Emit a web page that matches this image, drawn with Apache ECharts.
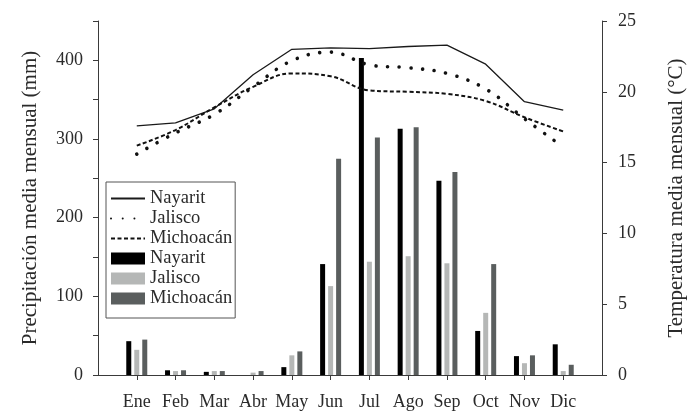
<!DOCTYPE html>
<html>
<head>
<meta charset="utf-8">
<script src="https://cdn.jsdelivr.net/npm/echarts@6/dist/echarts.min.js"></script>
<style>
  html, body { margin: 0; padding: 0; background: #fff; }
  #chart { width: 695px; height: 412px; }
</style>
</head>
<body>
<div id="chart"></div>
<script>
'use strict';

var months = ['Ene', 'Feb', 'Mar', 'Abr', 'May', 'Jun', 'Jul', 'Ago', 'Sep', 'Oct', 'Nov', 'Dic'];

// precipitacion media mensual (mm)
var rainNayarit   = [43, 6, 4, 0, 10, 141, 403, 313, 247, 56, 24, 39];
var rainJalisco   = [32, 5, 5, 3, 25, 113, 144, 151, 142, 79, 15, 5];
var rainMichoacan = [45, 6, 5, 5, 30, 275, 302, 315, 258, 141, 25, 13];

// temperatura media mensual (C)
var tempNayarit   = [17.6, 17.8, 18.8, 21.2, 23.0, 23.1, 23.05, 23.2, 23.3, 21.95, 19.3, 18.7];
var tempJalisco   = [15.6, 17.1, 18.4, 20.35, 22.2, 22.8, 21.9, 21.7, 21.3, 20.2, 18.1, 16.1];
var tempMichoacan = [16.2, 17.3, 18.9, 20.35, 21.3, 21.1, 20.1, 20.0, 19.85, 19.35, 18.2, 17.2];

var rainTicks = [0, 100, 200, 300, 400];

var FONT = 'Liberation Serif';
var AXIS = '#3a3a3a';
var TEXT = '#2a2a2a';

// one empty slot each side so the months sit one step in from the axes
function pad(arr) { return [null].concat(arr, [null]); }

var chart = echarts.init(document.getElementById('chart'));

// legend line items: hide the circle ECharts puts on top of the line icon
var lineItem = function (name) { return { name: name, itemStyle: { opacity: 0 } }; };

var option = {
  animation: false,
  backgroundColor: '#fff',
  textStyle: { fontFamily: FONT, color: TEXT },
  grid: { left: 98, right: 89, top: 21, bottom: 37 },
  legend: {
    orient: 'vertical',
    left: 106,
    top: 182,
    padding: [7, 3, 10, 4],
    borderColor: '#555',
    borderWidth: 1,
    itemWidth: 34,
    itemHeight: 12,
    itemGap: 1,
    textStyle: { fontFamily: FONT, fontSize: 18.5, color: TEXT, lineHeight: 18 },
    formatter: function (name) { return name.trim(); },
    data: [
      lineItem('Nayarit'),
      lineItem('Jalisco'),
      lineItem('Michoacán'),
      { name: 'Nayarit ', icon: 'rect' },
      { name: 'Jalisco ', icon: 'rect' },
      { name: 'Michoacán ', icon: 'rect' }
    ]
  },
  xAxis: {
    type: 'category',
    boundaryGap: false,
    data: pad(months).map(function (m) { return m || ''; }),
    axisLine: { lineStyle: { color: AXIS, width: 1 } },
    axisTick: {
      length: 5,
      lineStyle: { color: AXIS },
      interval: function (idx) { return idx > 0 && idx <= months.length; }
    },
    axisLabel: { interval: 0, margin: 18, fontSize: 18, color: TEXT, fontFamily: FONT },
    splitLine: { show: false }
  },
  yAxis: [{
    type: 'value',
    min: 0, max: 450, interval: 50,
    name: 'Precipitación media mensual (mm)',
    nameLocation: 'middle',
    nameRotate: 90,
    nameGap: 57,
    nameTextStyle: { fontSize: 21, fontFamily: FONT, color: TEXT },
    axisLine: { show: true, lineStyle: { color: AXIS } },
    axisTick: { show: true, length: 5, lineStyle: { color: AXIS } },
    axisLabel: {
      margin: 15, fontSize: 18, color: TEXT, fontFamily: FONT,
      formatter: function (v) { return rainTicks.indexOf(v) >= 0 ? v : ''; }
    },
    splitLine: { show: false }
  }, {
    type: 'value',
    min: 0, max: 25, interval: 5,
    name: 'Temperatura media mensual (°C)',
    nameLocation: 'middle',
    nameRotate: 90,
    nameGap: 64,
    nameTextStyle: { fontSize: 21, fontFamily: FONT, color: TEXT },
    axisLine: { show: true, lineStyle: { color: AXIS } },
    axisTick: { show: true, length: 5, lineStyle: { color: AXIS } },
    axisLabel: { margin: 16, fontSize: 18, color: TEXT, fontFamily: FONT },
    splitLine: { show: false }
  }],
  series: [
    { name: 'Nayarit ', type: 'bar', data: pad(rainNayarit), barWidth: 5, barGap: '60%',
      itemStyle: { color: '#000' } },
    { name: 'Jalisco ', type: 'bar', data: pad(rainJalisco), barWidth: 5, barGap: '60%',
      itemStyle: { color: '#b5b7b6' } },
    { name: 'Michoacán ', type: 'bar', data: pad(rainMichoacan), barWidth: 5, barGap: '60%',
      itemStyle: { color: '#5a5e5e' } },
    { name: 'Nayarit', type: 'line', yAxisIndex: 1, data: pad(tempNayarit),
      symbol: 'none', lineStyle: { color: '#1a1a1a', width: 1.3 }, itemStyle: { color: '#1a1a1a' } },
    { name: 'Jalisco', type: 'line', yAxisIndex: 1, data: pad(tempJalisco), smooth: 0.4,
      symbol: 'none', lineStyle: { color: '#111', width: 3.6, type: [0.01, 11.7], cap: 'round' },
      itemStyle: { color: '#111' } },
    { name: 'Michoacán', type: 'line', yAxisIndex: 1, data: pad(tempMichoacan), smooth: 0.4,
      symbol: 'none', lineStyle: { color: '#111', width: 2, type: [4, 2.5] },
      itemStyle: { color: '#111' } }
  ]
};

chart.setOption(option);
</script>
</body>
</html>
